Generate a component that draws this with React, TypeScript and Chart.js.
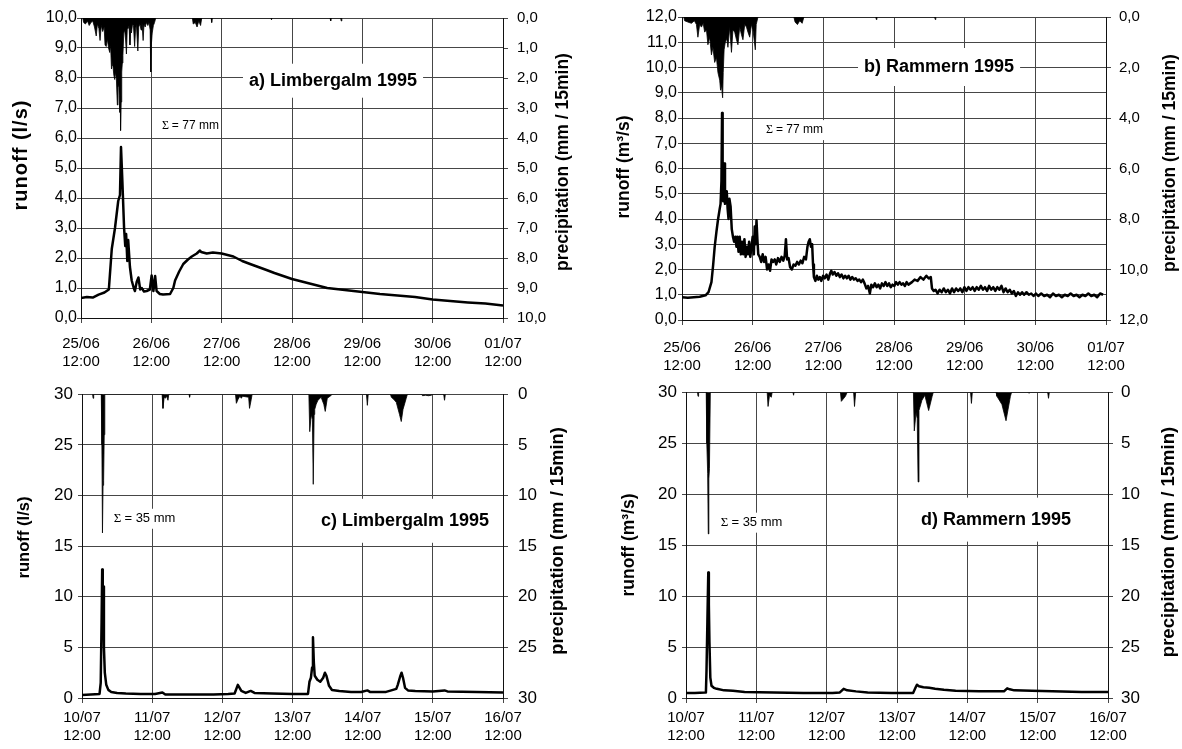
import React, { useEffect, useRef } from 'react';
import { Chart, registerables } from 'chart.js';

Chart.register(...registerables);

const FONT = '"Liberation Sans", Arial, Helvetica, sans-serif';
const SERIF = '"Liberation Serif", "Times New Roman", serif';
const GRID = '#464646';

// ---------- tick labels ----------
const daysJune = ['25/06', '26/06', '27/06', '28/06', '29/06', '30/06', '01/07'];
const daysJuly = ['10/07', '11/07', '12/07', '13/07', '14/07', '15/07', '16/07'];
const timeOfDay = '12:00';

// ---------- panel a) Limbergalm, 25/06-01/07 (hours since 25/06 12:00) ----------
const runoffA_t = [0, 2, 4, 6, 8, 9.5, 10.5, 11.6, 12.7, 13.3, 13.65, 14.1, 14.7, 15.1, 15.4, 15.8, 16.1, 16.7, 17.3, 18.0, 18.4, 19.0, 19.6, 20.2, 20.7, 21.5, 22.4, 23.5, 24.1, 24.7, 25.3, 25.8, 26.9, 28, 30.4, 31.5, 32.1, 33.5, 34.9, 36.5, 37.8, 39.5, 40.6, 41, 42.9, 45, 48, 52, 55, 57.7, 60.5, 63.3, 66, 69, 72, 78, 84, 90, 96, 102, 108, 114, 120, 126, 132, 138, 144];
const runoffA_v = [0.67, 0.7, 0.68, 0.78, 0.85, 0.95, 2.3, 3.0, 3.9, 4.1, 5.7, 4.6, 3.0, 2.4, 2.8, 1.9, 2.6, 1.7, 1.25, 1.0, 0.9, 1.2, 1.35, 0.95, 1.0, 0.88, 0.9, 0.95, 1.42, 0.9, 1.4, 0.9, 0.8, 0.78, 0.8, 1.0, 1.25, 1.55, 1.8, 1.95, 2.05, 2.15, 2.25, 2.2, 2.15, 2.18, 2.15, 2.05, 1.9, 1.8, 1.7, 1.6, 1.5, 1.4, 1.3, 1.15, 1.0, 0.93, 0.87, 0.8, 0.75, 0.7, 0.62, 0.57, 0.52, 0.48, 0.42];
const precipA_t = [0.6, 0.9, 1.5, 2.2, 2.8, 3.4, 4.0, 4.6, 5.2, 5.6, 6.1, 6.5, 6.9, 7.4, 7.9, 8.2, 8.6, 9.0, 9.4, 9.8, 10.1, 10.4, 10.7, 10.9, 11.2, 11.5, 11.8, 12.1, 12.4, 12.6, 12.9, 13.2, 13.4, 13.5, 13.7, 13.9, 14.1, 14.3, 14.6, 14.9, 15.2, 15.5, 15.8, 16.0, 16.4, 16.7, 17.0, 17.2, 17.6, 17.9, 18.3, 18.6, 18.9, 19.4, 19.7, 20.1, 20.5, 20.8, 21.2, 21.5, 21.9, 22.3, 22.8, 23.2, 23.6, 23.8, 24.0, 24.3, 24.7, 25.1, 25.5, 38.0, 38.3, 39.0, 39.6, 40.2, 40.8, 41.2, 44.4, 44.6, 44.8, 64.8, 65.0, 65.2, 85.0, 85.2, 85.4, 88.6, 88.8, 89.0];
const precipA_v = [0, 0.15, 0.2, 0.1, 0.25, 0.15, 0.1, 0.3, 0.6, 0.2, 0.35, 0.75, 0.25, 0.45, 0.3, 0.9, 0.95, 0.7, 1.0, 1.15, 0.9, 1.7, 1.4, 1.6, 1.9, 2.05, 1.8, 2.1, 2.9, 2.3, 2.25, 3.15, 2.6, 3.75, 2.8, 1.8, 1.5, 1.25, 0.5, 0.4, 0.7, 1.2, 0.3, 0.35, 0.25, 0.9, 0.3, 0.5, 0.2, 0.25, 0.95, 0.4, 0.2, 1.1, 0.3, 0.2, 0.4, 0.15, 0.75, 0.2, 0.3, 0.15, 0.25, 0.15, 0.4, 1.8, 0.9, 0.5, 0.25, 0.15, 0, 0, 0.2, 0.15, 0.3, 0.1, 0.25, 0, 0, 0.15, 0, 0, 0.06, 0, 0, 0.1, 0, 0, 0.1, 0];

// ---------- panel b) Rammern, 25/06-01/07 ----------
const runoffB_t = [0, 2, 4, 6, 8, 9, 10, 10.6, 11.1, 11.7, 12.2, 12.8, 13.1, 13.4, 13.6, 13.8, 14.0, 14.3, 14.6, 14.9, 15.2, 15.5, 15.8, 16.1, 16.5, 16.9, 17.3, 17.7, 18.1, 18.5, 18.8, 19.2, 19.6, 20.0, 20.4, 20.8, 21.2, 21.6, 22.0, 22.4, 22.8, 23.2, 23.6, 24.0, 24.4, 24.7, 25.0, 25.3, 25.6, 25.9, 26.4, 26.9, 27.4, 27.9, 28.4, 28.9, 29.4, 29.9, 30.4, 30.9, 31.5, 32.0, 32.6, 33.2, 33.8, 34.4, 34.9, 35.3, 35.7, 36.2, 36.7, 37.3, 37.9, 38.5, 39.1, 39.7, 40.3, 40.9, 41.5, 42.1, 42.6, 43.0, 43.4, 43.8, 44.2, 44.5, 44.8, 45.3, 45.8, 46.3, 46.8, 47.3, 47.9, 48.5, 49.1, 49.7, 50.3, 50.7, 51.2, 51.8, 52.4, 53.0, 53.6, 54.2, 54.8, 55.4, 56.0, 56.6, 57.2, 57.8, 58.4, 59.0, 59.6, 60.2, 60.8, 61.4, 62.0, 62.6, 63.2, 63.8, 64.3, 64.9, 65.5, 66.1, 66.7, 67.3, 67.9, 68.5, 69.1, 69.7, 70.3, 70.9, 71.5, 72.1, 72.7, 73.3, 73.9, 74.5, 75.1, 75.7, 76.3, 76.9, 77.5, 78.1, 79.0, 80.0, 81.0, 82.0, 83.0, 83.8, 84.5, 84.9, 85.5, 86.1, 86.8, 87.5, 88.2, 88.9, 89.6, 90.3, 91.0, 91.7, 92.4, 93.1, 93.8, 94.5, 95.2, 95.9, 96.6, 97.3, 98.0, 98.7, 99.4, 100.1, 100.8, 101.5, 102.2, 102.9, 103.6, 104.3, 105.0, 105.7, 106.4, 107.1, 107.8, 108.5, 109.2, 109.9, 110.6, 111.3, 112.0, 112.7, 113.4, 114.1, 114.8, 115.5, 116.2, 117.0, 117.8, 118.6, 119.4, 120.2, 121, 122, 123, 124, 125, 126, 127, 128, 129, 130, 131, 132, 133, 134, 135, 136, 137, 138, 139, 140, 141, 142, 143, 144];
const runoffB_v = [0.9, 0.88, 0.9, 0.92, 0.98, 1.1, 1.5, 2.2, 2.9, 3.5, 3.95, 4.4, 4.6, 5.5, 8.2, 5.0, 4.7, 6.2, 4.6, 4.9, 5.1, 4.4, 4.0, 4.8, 4.5, 3.6, 3.3, 3.1, 3.3, 2.9, 3.3, 2.7, 3.3, 2.6, 3.1, 2.6, 3.2, 2.5, 2.9, 2.6, 3.1, 2.5, 2.9, 3.3, 2.6, 3.7, 3.0, 3.95, 3.2, 2.6, 2.5, 2.3, 2.6, 2.3, 2.5, 2.0, 2.2, 1.95, 2.4, 2.3, 2.4, 2.2, 2.45, 2.3, 2.5, 2.35, 2.55, 3.2, 2.4, 2.45, 2.1, 2.0, 2.2, 2.15, 2.3, 2.2, 2.35, 2.25, 2.5, 2.4, 2.9, 3.1, 3.2, 2.9, 3.0, 2.2, 1.7, 1.55, 1.75, 1.6, 1.7, 1.55, 1.75, 1.65, 1.8, 1.6, 1.85, 1.95, 1.8, 1.9, 1.75, 1.85, 1.7, 1.8, 1.65, 1.75, 1.65, 1.75, 1.6, 1.7, 1.6, 1.65, 1.55, 1.6, 1.5, 1.6, 1.45, 1.25, 1.35, 1.05, 1.4, 1.3, 1.45, 1.3, 1.4, 1.25, 1.45, 1.35, 1.5, 1.35, 1.45, 1.3, 1.4, 1.35, 1.5, 1.4, 1.5, 1.4, 1.45, 1.35, 1.5, 1.4, 1.45, 1.5, 1.6, 1.55, 1.7, 1.6, 1.75, 1.65, 1.7, 1.25, 1.15, 1.2, 1.05, 1.2, 1.1, 1.25, 1.1, 1.2, 1.05, 1.25, 1.1, 1.25, 1.15, 1.25, 1.1, 1.3, 1.15, 1.3, 1.2, 1.3, 1.15, 1.3, 1.2, 1.35, 1.2, 1.3, 1.15, 1.35, 1.2, 1.3, 1.15, 1.3, 1.2, 1.35, 1.1, 1.25, 1.1, 1.2, 1.05, 1.15, 0.95, 1.1, 1.0, 1.1, 1.0, 1.1, 1.0, 1.05, 0.95, 1.05, 0.95, 1.05, 0.95, 1.0, 0.9, 1.05, 0.95, 1.0, 0.9, 1.0, 0.95, 1.05, 0.95, 1.0, 0.9, 1.0, 0.95, 1.05, 0.95, 1.0, 0.9, 1.05, 1.0];
const precipB_t = [0.6, 0.9, 2.0, 3.2, 4.2, 4.9, 5.4, 6.0, 6.6, 7.2, 7.7, 8.3, 8.8, 9.4, 10.0, 10.5, 11.1, 11.7, 12.2, 12.8, 13.1, 13.4, 13.8, 14.0, 14.3, 14.7, 15.2, 15.6, 16.2, 16.8, 17.3, 17.9, 18.5, 19.0, 19.6, 20.2, 20.7, 21.3, 21.9, 22.4, 23.0, 23.6, 24.1, 24.9, 25.2, 25.8, 38.0, 38.4, 39.2, 40.0, 40.8, 41.4, 65.8, 66.0, 66.2, 85.8, 86.0, 86.2];
const precipB_v = [0, 0.15, 0.2, 0.25, 0.15, 0.3, 0.8, 0.3, 0.4, 0.25, 0.6, 0.5, 1.1, 0.8, 1.5, 1.2, 1.8, 1.6, 2.2, 2.5, 2.9, 2.7, 3.2, 2.2, 1.3, 1.0, 0.85, 1.2, 0.4, 1.4, 0.5, 0.6, 0.9, 1.1, 0.4, 0.7, 0.9, 0.3, 0.4, 0.6, 0.8, 0.3, 0.5, 1.3, 0.3, 0, 0, 0.2, 0.3, 0.15, 0.25, 0, 0, 0.1, 0, 0, 0.1, 0];

// ---------- panel c) Limbergalm, 10/07-16/07 (hours since 10/07 12:00) ----------
const runoffC_t = [0, 3, 6.0, 6.4, 6.7, 6.9, 7.1, 7.3, 7.5, 7.8, 8.3, 9, 10, 12, 15, 20, 25, 27.5, 28.5, 35, 45, 50, 52.2, 53.3, 54.5, 56, 57.7, 59, 65, 72, 77.3, 77.8, 78.3, 78.7, 79.0, 79.3, 79.6, 80.5, 81.5, 82.5, 83.1, 83.6, 84.5, 85.5, 88, 92, 95.5, 97.6, 98.5, 104, 105.8, 107.5, 108, 108.8, 109.3, 109.8, 110.5, 111.5, 114, 120, 124, 125, 135, 144];
const runoffC_v = [0.3, 0.35, 0.4, 1.5, 7.5, 12.7, 9.5, 11.0, 5.0, 2.5, 1.3, 0.8, 0.6, 0.5, 0.45, 0.4, 0.4, 0.55, 0.35, 0.35, 0.35, 0.4, 0.45, 1.3, 0.7, 0.5, 0.7, 0.5, 0.45, 0.4, 0.4, 1.6, 2.0, 3.0, 6.0, 3.5, 2.2, 1.8, 1.6, 2.0, 2.5, 2.2, 1.2, 0.8, 0.7, 0.6, 0.6, 0.75, 0.6, 0.6, 0.75, 0.9, 1.3, 2.1, 2.5, 2.0, 1.0, 0.75, 0.7, 0.65, 0.75, 0.65, 0.6, 0.55];
const precipC_t = [3.6, 3.8, 4.0, 6.6, 6.8, 7.0, 7.2, 7.4, 7.6, 7.8, 27.4, 27.7, 28.1, 28.5, 29.0, 29.4, 29.7, 36.6, 36.8, 37.0, 52.5, 52.8, 53.4, 54.0, 54.5, 54.9, 57.0, 57.3, 57.9, 58.2, 77.6, 77.9, 78.4, 78.8, 79.1, 79.4, 79.6, 80.1, 80.7, 81.8, 82.7, 83.2, 83.9, 85.3, 85.6, 97.3, 97.6, 97.9, 105.5, 105.8, 106.6, 107.5, 108.6, 109.2, 109.8, 110.9, 111.3, 116.0, 116.5, 117.5, 118.5, 119.5, 120.0, 123.7, 124.0, 124.3];
const precipC_v = [0, 0.4, 0, 0, 5.0, 13.7, 9.0, 8.5, 4.0, 0, 0, 1.4, 0.3, 0.4, 0.2, 0.6, 0, 0, 0.3, 0, 0, 0.9, 0.5, 0.2, 0.4, 0.2, 0.3, 1.4, 0.5, 0, 0, 3.7, 2.0, 2.5, 8.9, 2.0, 1.5, 1.0, 0.6, 0.3, 1.0, 1.7, 0.4, 0.1, 0, 0, 1.1, 0, 0, 0.3, 0.5, 0.8, 2.0, 2.7, 1.5, 0.4, 0, 0, 0.15, 0.1, 0.15, 0.1, 0, 0, 0.6, 0];

// ---------- panel d) Rammern, 10/07-16/07 ----------
const runoffD_t = [0, 3, 6.5, 6.8, 7.0, 7.3, 7.6, 7.8, 8.0, 8.3, 8.7, 9.5, 10.5, 13, 16, 20, 30, 40, 50, 52.5, 53.8, 55, 58, 62, 70, 77.5, 78.3, 78.8, 79.5, 81, 83, 85, 88, 92, 100, 108.5, 109.6, 110.5, 112, 118, 125, 135, 144];
const runoffD_v = [0.5, 0.5, 0.55, 0.6, 2.7, 7.5, 12.3, 9.2, 5.5, 2.0, 1.2, 1.0, 0.9, 0.75, 0.7, 0.6, 0.55, 0.5, 0.5, 0.55, 0.9, 0.75, 0.65, 0.55, 0.5, 0.5, 1.0, 1.3, 1.15, 1.05, 1.0, 0.9, 0.8, 0.7, 0.65, 0.65, 0.95, 0.85, 0.75, 0.7, 0.65, 0.6, 0.58];
const precipD_t = [3.9, 4.1, 4.3, 6.9, 7.1, 7.4, 7.6, 7.8, 8.0, 8.3, 27.7, 28.0, 28.5, 29.1, 29.4, 36.5, 36.7, 36.9, 52.7, 53.0, 54.4, 55.0, 57.2, 57.5, 57.9, 77.6, 77.9, 78.5, 78.9, 79.2, 79.5, 79.8, 80.5, 81.5, 82.8, 84.0, 84.4, 97.1, 97.4, 97.7, 105.8, 106.1, 107.8, 109.2, 110.7, 111.1, 116.7, 117.0, 117.5, 123.4, 123.7, 124.0];
const precipD_v = [0, 0.4, 0, 0, 5.0, 8.0, 13.9, 8.5, 7.5, 0, 0, 1.4, 0.3, 0.5, 0, 0, 0.3, 0, 0, 0.9, 0.4, 0, 0, 1.4, 0, 0, 3.8, 2.0, 2.6, 8.8, 1.8, 1.5, 0.8, 0.3, 1.8, 0.4, 0, 0, 1.1, 0, 0, 0.4, 1.2, 2.8, 0.4, 0, 0, 0.1, 0, 0, 0.6, 0];

// ---------- panel layout / styling ----------
const comma1 = (v: number) => Number(v).toFixed(1).replace('.', ',');
const int0 = (v: number) => String(Math.round(Number(v)));

type Panel = {
  left: number; top: number; w: number; h: number;
  padTop: number; yW: number; y2W: number; xH: number; xPad: number;
  yMax: number; yStep: number; pMax: number; pStep: number;
  yFont: number; y2Font: number; yPad: number; y2Pad: number;
  fmt: (v: number) => string;
  days: string[];
  runoffT: number[]; runoffV: number[]; precipT: number[]; precipV: number[];
  title: string; titleAt: [number, number]; boxH: number;
  sigma: string; sigmaAt: [number, number]; sigmaSize: number;
  leftTitle: string; leftPos: [number, number]; leftSize: number; leftSpacing: number;
  rightTitle: string; rightPos: [number, number]; rightSize: number;
};

const panels: Panel[] = [
  {
    left: 0, top: 0, w: 591, h: 374, padTop: 17, yW: 81, y2W: 88, xH: 56, xPad: 12,
    yMax: 10, yStep: 1, pMax: 10, pStep: 1, yFont: 16, y2Font: 15, yPad: 0, y2Pad: 9, fmt: comma1, days: daysJune,
    runoffT: runoffA_t, runoffV: runoffA_v, precipT: precipA_t, precipV: precipA_v,
    title: 'a) Limbergalm 1995', titleAt: [86.0, 7.91], boxH: 34,
    sigma: '= 77 mm', sigmaAt: [27.6, 6.41], sigmaSize: 12,
    leftTitle: 'runoff (l/s)', leftPos: [21, 155], leftSize: 20, leftSpacing: 1,
    rightTitle: 'precipitation (mm / 15min)', rightPos: [563, 162], rightSize: 17.5,
  },
  {
    left: 591, top: 0, w: 591, h: 374, padTop: 17, yW: 91, y2W: 76, xH: 54, xPad: 14,
    yMax: 12, yStep: 1, pMax: 12, pStep: 2, yFont: 16, y2Font: 15, yPad: 1, y2Pad: 8, fmt: comma1, days: daysJune,
    runoffT: runoffB_t, runoffV: runoffB_v, precipT: precipB_t, precipV: precipB_v,
    title: 'b) Rammern 1995', titleAt: [87.3, 10.02], boxH: 38,
    sigma: '= 77 mm', sigmaAt: [28.5, 7.52], sigmaSize: 12,
    leftTitle: 'runoff (m³/s)', leftPos: [33, 167], leftSize: 17.5, leftSpacing: 0,
    rightTitle: 'precipitation (mm / 15min)', rightPos: [579, 163], rightSize: 17.5,
  },
  {
    left: 0, top: 374, w: 591, h: 375, padTop: 15, yW: 82, y2W: 88, xH: 51, xPad: 6,
    yMax: 30, yStep: 5, pMax: 30, pStep: 5, yFont: 17, y2Font: 17, yPad: 5, y2Pad: 10, fmt: int0, days: daysJuly,
    runoffT: runoffC_t, runoffV: runoffC_v, precipT: precipC_t, precipV: precipC_v,
    title: 'c) Limbergalm 1995', titleAt: [110.5, 17.5], boxH: 44,
    sigma: '= 35 mm', sigmaAt: [10.9, 17.7], sigmaSize: 13,
    leftTitle: 'runoff (l/s)', leftPos: [24, 163.5], leftSize: 16.6, leftSpacing: 0,
    rightTitle: 'precipitation (mm / 15min)', rightPos: [558, 167], rightSize: 18.3,
  },
  {
    left: 591, top: 374, w: 591, h: 375, padTop: 15, yW: 95, y2W: 74, xH: 51, xPad: 6,
    yMax: 30, yStep: 5, pMax: 30, pStep: 5, yFont: 17, y2Font: 17, yPad: 5, y2Pad: 8, fmt: int0, days: daysJuly,
    runoffT: runoffD_t, runoffV: runoffD_v, precipT: precipD_t, precipV: precipD_v,
    title: 'd) Rammern 1995', titleAt: [105.8, 17.5], boxH: 44,
    sigma: '= 35 mm', sigmaAt: [11.9, 17.2], sigmaSize: 13,
    leftTitle: 'runoff (m³/s)', leftPos: [38, 171], leftSize: 17.5, leftSpacing: 0,
    rightTitle: 'precipitation (mm / 15min)', rightPos: [578, 168], rightSize: 18.5,
  },
];

function annotations(p: Panel) {
  return {
    id: 'annotations',
    beforeDatasetsDraw(chart: any) {
      const ctx = chart.ctx as CanvasRenderingContext2D;
      const xs = chart.scales.x;
      const ys = chart.scales.y;
      ctx.save();
      // panel title in white box
      ctx.font = `bold 18px ${FONT}`;
      const tw = ctx.measureText(p.title).width;
      const tx = xs.getPixelForValue(p.titleAt[0]);
      const ty = ys.getPixelForValue(p.titleAt[1]);
      ctx.fillStyle = '#fff';
      ctx.fillRect(tx - tw / 2 - 6, ty - p.boxH / 2, tw + 12, p.boxH);
      ctx.fillStyle = '#000';
      ctx.textAlign = 'center';
      ctx.textBaseline = 'middle';
      ctx.fillText(p.title, tx, ty);
      // sum of precipitation
      const sx = xs.getPixelForValue(p.sigmaAt[0]);
      const sy = ys.getPixelForValue(p.sigmaAt[1]);
      ctx.font = `${p.sigmaSize}px ${SERIF}`;
      const gw = ctx.measureText('Σ').width;
      ctx.font = `${p.sigmaSize}px ${FONT}`;
      const rw = ctx.measureText(p.sigma).width;
      ctx.fillStyle = '#fff';
      ctx.fillRect(sx - 2, sy - 10, gw + 3 + rw + 4, 20);
      ctx.fillStyle = '#000';
      ctx.textAlign = 'left';
      ctx.font = `${p.sigmaSize}px ${SERIF}`;
      ctx.fillText('Σ', sx, sy);
      ctx.font = `${p.sigmaSize}px ${FONT}`;
      ctx.fillText(p.sigma, sx + gw + 3, sy);
      ctx.restore();
    },
    afterDraw(chart: any) {
      const ctx = chart.ctx as CanvasRenderingContext2D;
      const drawRot = (text: string, x: number, y: number, size: number, spacing: number) => {
        ctx.save();
        ctx.translate(x, y);
        ctx.rotate(-Math.PI / 2);
        ctx.font = `bold ${size}px ${FONT}`;
        (ctx as any).letterSpacing = `${spacing}px`;
        ctx.fillStyle = '#000';
        ctx.textAlign = 'center';
        ctx.textBaseline = 'middle';
        ctx.fillText(text, 0, 0);
        ctx.restore();
      };
      drawRot(p.leftTitle, p.leftPos[0], p.leftPos[1], p.leftSize, p.leftSpacing);
      drawRot(p.rightTitle, p.rightPos[0], p.rightPos[1], p.rightSize, 0);
    },
  };
}

function makeChart(canvas: HTMLCanvasElement, p: Panel) {
  const runoff = p.runoffT.map((t, i) => ({ x: t, y: p.runoffV[i] }));
  const precip = p.precipT.map((t, i) => ({ x: t, y: p.precipV[i] }));
  return new Chart(canvas, {
    type: 'line',
    data: {
      datasets: [
        {
          data: runoff, yAxisID: 'y', borderColor: '#000', borderWidth: 2.5,
          pointRadius: 0, tension: 0, fill: false, borderJoinStyle: 'round',
        },
        {
          data: precip, yAxisID: 'y2', borderColor: '#000', borderWidth: 0.8,
          backgroundColor: '#000', pointRadius: 0, tension: 0, fill: 'origin',
        },
      ],
    } as any,
    options: {
      animation: false,
      responsive: false,
      events: [],
      layout: { padding: { top: p.padTop, left: 0, right: 0, bottom: 0 } },
      plugins: { legend: { display: false }, tooltip: { enabled: false } },
      scales: {
        x: {
          type: 'linear', min: 0, max: 144, offset: false,
          ticks: {
            stepSize: 24, autoSkip: false, maxRotation: 0, padding: p.xPad, color: '#000',
            font: { family: FONT, size: 15, lineHeight: 1.2 },
            callback: (v: any) => [p.days[Math.round(Number(v) / 24)], timeOfDay],
          },
          grid: { color: GRID, lineWidth: 1, tickLength: 5 },
          border: { color: '#111', width: 1 },
          afterFit: (s: any) => { s.height = p.xH; },
        },
        y: {
          position: 'left', min: 0, max: p.yMax,
          ticks: {
            stepSize: p.yStep, padding: p.yPad, color: '#000',
            font: { family: FONT, size: p.yFont },
            callback: (v: any) => p.fmt(v),
          },
          grid: { color: GRID, lineWidth: 1, tickLength: 4 },
          border: { color: '#111', width: 1 },
          afterFit: (s: any) => { s.width = p.yW; },
        },
        y2: {
          position: 'right', reverse: true, min: 0, max: p.pMax,
          ticks: {
            stepSize: p.pStep, padding: p.y2Pad, color: '#000',
            font: { family: FONT, size: p.y2Font },
            callback: (v: any) => p.fmt(v),
          },
          grid: { drawOnChartArea: false, color: GRID, lineWidth: 1, tickLength: 5 },
          border: { color: '#111', width: 1 },
          afterFit: (s: any) => { s.width = p.y2W; },
        },
      },
    } as any,
    plugins: [annotations(p)],
  });
}

function PanelChart({ p }: { p: Panel }) {
  const ref = useRef<HTMLCanvasElement | null>(null);
  useEffect(() => {
    if (!ref.current) return;
    const chart = makeChart(ref.current, p);
    return () => chart.destroy();
  }, [p]);
  return (
    <canvas
      ref={ref}
      width={p.w}
      height={p.h}
      style={{ position: 'absolute', left: p.left, top: p.top, width: p.w, height: p.h }}
    />
  );
}

export default function App() {
  return (
    <div style={{ position: 'absolute', left: 0, top: 0, width: 1182, height: 749, background: '#fff' }}>
      {panels.map((p, i) => (
        <PanelChart key={i} p={p} />
      ))}
    </div>
  );
}
